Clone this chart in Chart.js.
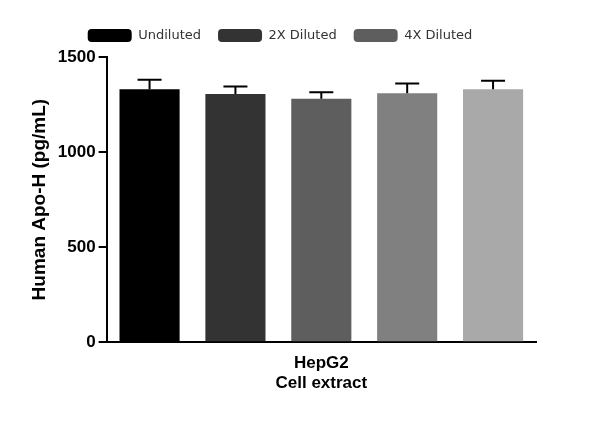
<!DOCTYPE html>
<html><head><script src="https://cdn.jsdelivr.net/npm/chart.js@4"></script>
<style>body{margin:0;background:#fff}#w{width:600px;height:433px}</style></head>
<body><div id="w"><canvas id="c"></canvas></div>
<script>
const categories=[["HepG2","Cell extract"]];
const seriesNames=["Undiluted","2X Diluted","4X Diluted","8X Diluted","16X Diluted"];
const means=[1330,1305,1280,1310,1330];
const errs=[50,40,35,50,45];
const colors=["#000000","#333333","#5e5e5e","#808080","#a9a9a9"];
const yTicks=[0,500,1000,1500];
const errPlugin={id:'err',afterDatasetsDraw(ch){const c=ch.ctx,y=ch.scales.y;c.save();c.strokeStyle='#000';c.lineWidth=2;
ch.data.datasets.forEach((d,i)=>{const el=ch.getDatasetMeta(i).data[0];const t=y.getPixelForValue(means[i]+errs[i]);
c.beginPath();c.moveTo(el.x,el.y);c.lineTo(el.x,t);c.moveTo(el.x-12,t);c.lineTo(el.x+12,t);c.stroke();});c.restore();}};
const legFix={id:'legFix',afterInit(ch){const l=ch.legend;const of=l.fit.bind(l);l.fit=function(){of();this.height=45;};}};
new Chart(document.getElementById('c'),{type:'bar',
data:{labels:categories,datasets:seriesNames.map((n,i)=>({label:n,data:[means[i]],backgroundColor:colors[i]}))},
options:{responsive:true,maintainAspectRatio:false,animation:false,
layout:{padding:{left:24,right:64,bottom:36,top:12}},
datasets:{bar:{categoryPercentage:1,barPercentage:0.7}},
plugins:{legend:{labels:{boxWidth:44,boxHeight:13,useBorderRadius:true,borderRadius:4,padding:17,color:'#333',font:{family:'DejaVu Sans',size:13}}},tooltip:{enabled:false}},
scales:{x:{grid:{display:false,drawOnChartArea:false,tickLength:8,color:'#000'},border:{color:'#000',width:2},
ticks:{color:'#000',font:{family:'Liberation Sans',size:17,weight:'bold'}}},
y:{min:0,max:1500,afterBuildTicks(a){a.ticks=yTicks.map(v=>({value:v}))},grid:{drawOnChartArea:false,tickLength:8,color:'#000',lineWidth:2},border:{color:'#000',width:2},
ticks:{color:'#000',callback:v=>String(v),font:{family:'Liberation Sans',size:17,weight:'bold'}},
title:{display:true,text:'Human Apo-H (pg/mL)',color:'#000',font:{family:'Liberation Sans',size:19,weight:'bold'}}}}},
plugins:[errPlugin,legFix]});
</script></body></html>
